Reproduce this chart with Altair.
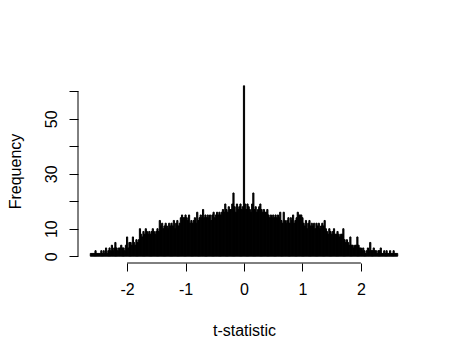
import altair as alt
import pandas as pd

# Histogram of t-statistics: bins of width 0.02 starting at -2.63
BIN_START = -2.63
BIN_WIDTH = 0.02
counts = [
    1, 1, 1, 1, 2, 1, 1, 1, 1, 2,
    1, 2, 1, 3, 1, 2, 3, 2, 4, 2,
    3, 5, 3, 2, 3, 3, 4, 3, 3, 2,
    4, 7, 3, 5, 5, 4, 7, 5, 4, 6,
    5, 6, 10, 8, 7, 9, 8, 10, 9, 8,
    9, 8, 9, 10, 9, 8, 9, 10, 9, 13,
    11, 12, 10, 11, 12, 11, 10, 12, 11, 12,
    11, 13, 10, 12, 13, 11, 12, 14, 15, 14,
    14, 15, 14, 13, 15, 12, 13, 12, 13, 14,
    12, 16, 13, 14, 15, 14, 17, 14, 15, 14,
    15, 14, 15, 13, 15, 16, 14, 15, 16, 15,
    16, 15, 16, 17, 16, 19, 17, 16, 18, 17,
    17, 19, 23, 18, 16, 19, 17, 18, 19, 17,
    18, 62, 19, 17, 19, 18, 17, 16, 19, 23,
    17, 18, 16, 17, 18, 19, 17, 16, 17, 16,
    16, 17, 15, 14, 15, 14, 15, 14, 15, 14,
    15, 14, 16, 13, 12, 16, 13, 12, 13, 14,
    12, 14, 13, 15, 12, 13, 14, 16, 15, 15,
    15, 14, 12, 11, 13, 10, 12, 13, 11, 12,
    11, 12, 10, 12, 11, 12, 10, 11, 12, 11,
    13, 10, 9, 8, 10, 9, 8, 9, 10, 8,
    8, 9, 8, 7, 8, 8, 10, 6, 5, 6,
    5, 4, 7, 4, 4, 3, 4, 4, 7, 4,
    3, 3, 2, 3, 2, 1, 2, 3, 2, 5,
    2, 2, 3, 2, 2, 1, 2, 2, 3, 1,
    1, 2, 1, 2, 1, 1, 2, 1, 1, 2,
    1, 1, 1,
]
x_ticks = [-2, -1, 0, 1, 2]
y_ticks = [0, 10, 20, 30, 40, 50, 60]
y_labelled = [0, 10, 30, 50]

lo = [round(BIN_START + BIN_WIDTH * i, 4) for i in range(len(counts))]
hi = [round(v + BIN_WIDTH, 4) for v in lo]
df = pd.DataFrame({"lo": lo, "hi": hi, "count": counts, "base": [0] * len(counts)})

W, H = 332, 184
FONT = "Liberation Sans"
X_TITLE = "t-statistic"
Y_TITLE = "Frequency"

x_scale = alt.Scale(domain=[-2.84, 2.84], nice=False, zero=False)
y_scale = alt.Scale(domain=[-2.48, 64.48], nice=False, zero=False)

label_expr_y = "indexof(%s, datum.value) >= 0 ? '' + datum.value : ''" % str(y_labelled)

x_axis = alt.Axis(values=x_ticks, domain=False, grid=False, tickSize=8,
                  tickColor="black", labelExpr="'' + datum.value",
                  labelPadding=10, title=X_TITLE, titlePadding=25)
y_axis = alt.Axis(values=y_ticks, domain=False, grid=False, tickSize=9,
                  tickColor="black", labelAngle=-90, labelExpr=label_expr_y,
                  labelPadding=10, labelAlign="center", labelBaseline="bottom",
                  title=Y_TITLE, titlePadding=20)

bars = alt.Chart(df).mark_rect(fill="black", stroke="black", strokeWidth=1).encode(
    x=alt.X("lo:Q", scale=x_scale, axis=x_axis),
    x2="hi:Q",
    y=alt.Y("count:Q", scale=y_scale, axis=y_axis),
    y2="base:Q",
)

xline = alt.Chart(pd.DataFrame({"a": [min(x_ticks)], "b": [max(x_ticks)]})).mark_rule(
    color="black", strokeWidth=1
).encode(x=alt.X("a:Q", scale=x_scale, axis=x_axis), x2="b:Q", y=alt.value(H))

yline = alt.Chart(pd.DataFrame({"a": [min(y_ticks)], "b": [max(y_ticks)]})).mark_rule(
    color="black", strokeWidth=1
).encode(y=alt.Y("a:Q", scale=y_scale, axis=y_axis), y2="b:Q", x=alt.value(0))

chart = alt.layer(bars, xline, yline).properties(
    width=W, height=H,
    background="white",
    autosize=alt.AutoSizeParams(type="none"),
    padding={"left": 70, "top": 71, "right": 30, "bottom": 89},
).configure_view(stroke=None).configure_axis(
    labelFont=FONT, titleFont=FONT, labelFontSize=16, titleFontSize=16,
    titleFontWeight="normal", labelColor="black", titleColor="black",
)

chart.save("out.html", embed_options={"renderer": "svg", "actions": False})
